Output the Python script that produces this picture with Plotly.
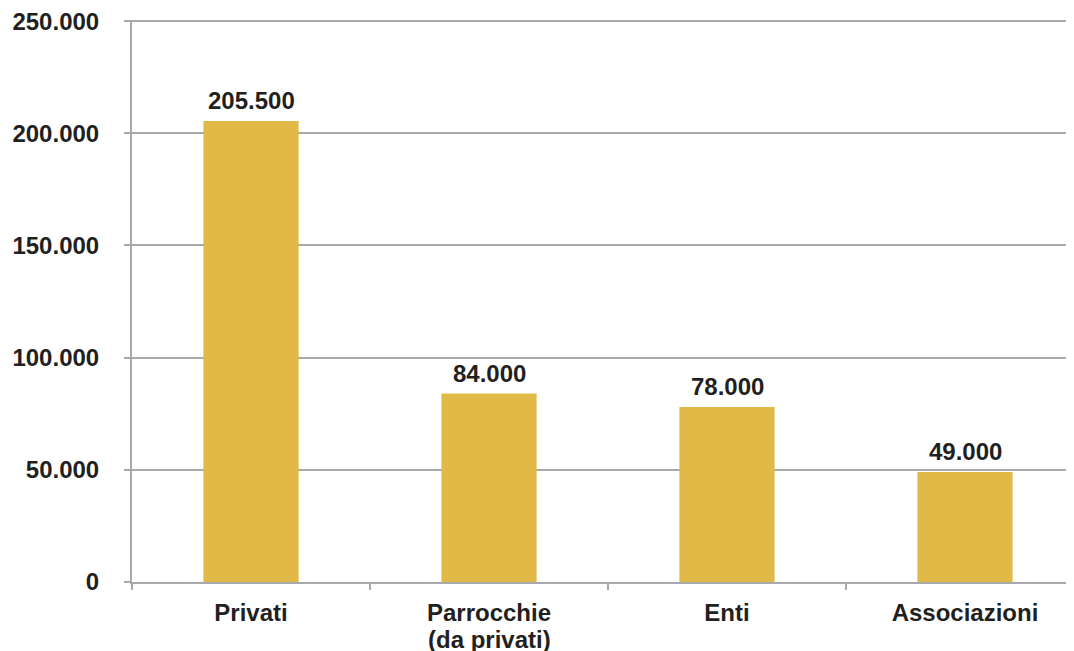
import plotly.graph_objects as go

# category labels: first line shown as tick label, further lines below it
categories = ["Privati", "Parrocchie\n(da privati)", "Enti", "Associazioni"]
values = [205500, 84000, 78000, 49000]
y_ticks = [0, 50000, 100000, 150000, 200000, 250000]

bar_color = "#E0B946"
grid_color = "#A8A9AD"
text_color = "#231F20"
font_family = "Liberation Sans, Arial, Helvetica, sans-serif"
FS = 24

fig = go.Figure(
    go.Bar(
        x=categories,
        y=values,
        width=0.4,
        marker=dict(color=bar_color, line=dict(width=0)),
        hoverinfo="y",
    )
)

# value labels above bars
for cat, val in zip(categories, values):
    fig.add_annotation(
        x=cat,
        y=val,
        text=f"{val:,}".replace(",", "."),
        showarrow=False,
        yanchor="bottom",
        yshift=5,
        font=dict(family=font_family, size=FS, color=text_color, weight="bold"),
    )

# second lines of multi-line category labels (tighter line spacing)
for cat in categories:
    lines = cat.split("\n")
    for i, extra in enumerate(lines[1:], start=1):
        fig.add_annotation(
            x=cat,
            y=0,
            yref="paper",
            text=extra,
            showarrow=False,
            yanchor="top",
            yshift=-16 - 26 * i,
            font=dict(family=font_family, size=FS, color=text_color, weight="bold"),
        )

fig.update_layout(
    width=1074,
    height=651,
    margin=dict(l=124, r=8, t=12, b=77),
    plot_bgcolor="white",
    paper_bgcolor="white",
    separators=",.",
    showlegend=False,
    font=dict(family=font_family, size=FS, color=text_color, weight="bold"),
)

fig.update_xaxes(
    range=[-0.5, 3.458],
    automargin=False,
    tickmode="array",
    tickvals=categories,
    ticktext=[c.split("\n")[0] for c in categories],
    showline=True,
    linecolor=grid_color,
    linewidth=2,
    ticks="outside",
    tickson="boundaries",
    ticklen=6,
    tickwidth=2,
    tickcolor=grid_color,
    showgrid=False,
    ticklabelstandoff=8,
    tickfont=dict(family=font_family, size=FS, color=text_color, weight="bold"),
)

fig.update_yaxes(
    range=[0, 250500],
    automargin=False,
    tickvals=y_ticks,
    tickformat=",d",
    showline=True,
    linecolor=grid_color,
    linewidth=2,
    showgrid=True,
    gridcolor=grid_color,
    gridwidth=2,
    zeroline=False,
    ticks="outside",
    ticklen=6,
    tickwidth=2,
    tickcolor=grid_color,
    ticklabelstandoff=20,
    ticklabeloverflow="allow",
    tickfont=dict(family=font_family, size=FS, color=text_color, weight="bold"),
)

fig.write_html("out.html")
